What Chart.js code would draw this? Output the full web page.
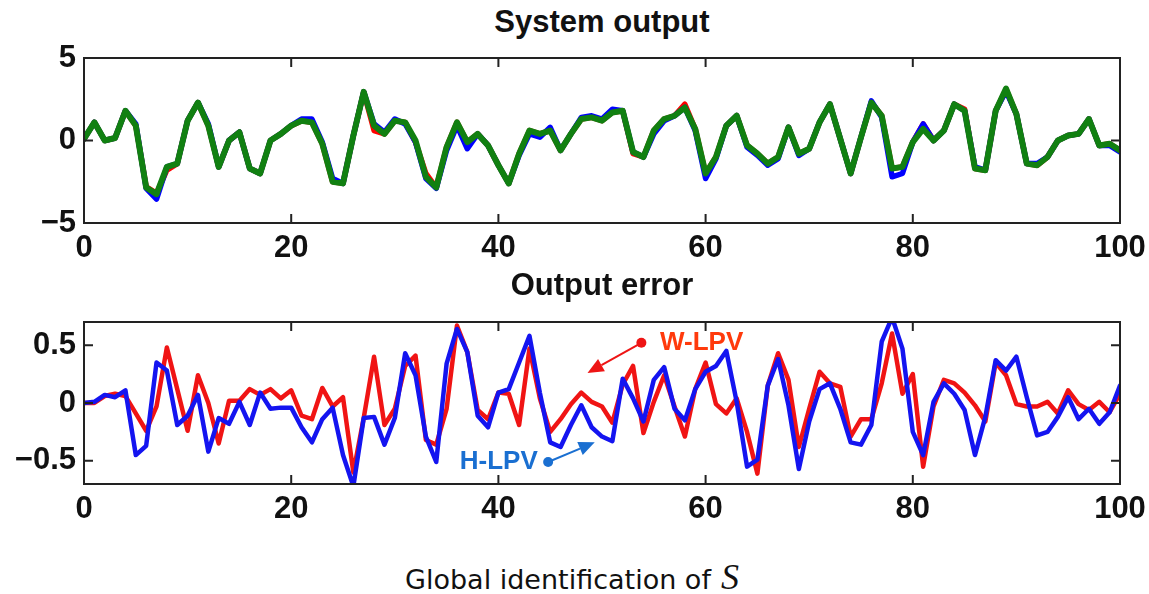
<!DOCTYPE html>
<html>
<head>
<meta charset="utf-8">
<script src="https://cdn.jsdelivr.net/npm/chart.js@4.4.1/dist/chart.umd.min.js"></script>
<style>
  html, body { margin: 0; padding: 0; background: #fff; }
  #wrap { position: relative; width: 1149px; height: 594px; overflow: hidden; }
  canvas { position: absolute; left: 0; }
  .title {
    position: absolute; left: 84px; width: 1036px; text-align: center;
    font: bold 31px 'Liberation Sans', Arial, sans-serif; line-height: 31px; color: #111;
  }
  #caption {
    position: absolute; left: 405px; top: 566px; white-space: nowrap;
    font: 27px 'DejaVu Sans', sans-serif; line-height: 27px; color: #111;
  }
  #caption span { font: italic 36px 'Liberation Serif', serif; line-height: 0; margin-left: 10px; }
</style>
</head>
<body>
<div id="wrap">
  <div class="title" style="top:6px">System output</div>
  <canvas id="chart-system" width="1149" height="270" style="top:0"></canvas>
  <div class="title" style="top:269px">Output error</div>
  <canvas id="chart-error" width="1149" height="260" style="top:270px"></canvas>
  <div id="caption">Global identification of<span>S</span></div>
</div>
<script>
/* ==========================================
   System output / Output error — two panels
   ========================================== */

const samples = Array.from({ length: 101 }, (_, i) => i);
const xTicks = [0, 20, 40, 60, 80, 100];
const sysYTicks = [-5, 0, 5];
const errYTicks = [-0.5, 0, 0.5];

// System output: true system (green) and the two identified models
const outTrue = [
  0.1, 1.1, 0.0, 0.15, 1.8, 0.9, -2.85, -3.25, -1.6, -1.4,
  1.2, 2.3, 0.9, -1.6, 0.0, 0.5, -1.7, -2.0, 0.0, 0.4,
  0.9, 1.2, 1.1, -0.2, -2.5, -2.6, 0.3, 2.95, 0.9, 0.4,
  1.2, 1.1, 0.0, -2.2, -2.85, -0.4, 1.1, -0.1, 0.4, -0.3,
  -1.5, -2.6, -0.8, 0.6, 0.4, 0.6, -0.6, 0.4, 1.3, 1.4,
  1.2, 1.7, 1.8, -0.7, -1.0, 0.6, 1.3, 1.5, 2.0, 0.7,
  -2.0, -1.0, 0.9, 1.5, -0.3, -0.8, -1.4, -1.0, 0.8, -0.8,
  -0.5, 1.1, 2.2, 0.1, -2.0, 0.2, 2.3, 1.5, -1.7, -1.6,
  -0.1, 0.7, 0.0, 0.6, 2.2, 1.8, -1.7, -1.8, 1.8, 3.15,
  1.6, -1.4, -1.5, -1.0, 0.0, 0.3, 0.4, 1.3, -0.3, -0.2,
  -0.6
];
const outHLPV = [
  0.1, 1.1, 0.0, 0.15, 1.8, 1.0, -2.9, -3.55, -1.6, -1.4,
  1.2, 2.3, 1.0, -1.6, 0.0, 0.5, -1.7, -2.0, 0.0, 0.4,
  0.9, 1.3, 1.3, -0.1, -2.3, -2.6, 0.3, 2.95, 1.0, 0.5,
  1.3, 1.0, -0.1, -2.3, -2.9, -0.6, 0.9, -0.5, 0.4, -0.3,
  -1.5, -2.6, -0.9, 0.4, 0.2, 0.8, -0.6, 0.4, 1.4, 1.5,
  1.3, 1.9, 1.8, -0.7, -1.0, 0.4, 1.2, 1.5, 2.0, 0.6,
  -2.3, -1.1, 0.9, 1.5, -0.4, -0.9, -1.5, -1.1, 0.8, -0.9,
  -0.5, 1.1, 2.2, 0.1, -2.0, 0.2, 2.4, 1.4, -2.2, -2.0,
  -0.1, 1.0, 0.0, 0.6, 2.2, 1.8, -1.6, -1.8, 1.8, 3.0,
  1.6, -1.4, -1.4, -1.0, 0.0, 0.3, 0.4, 1.3, -0.3, -0.3,
  -0.7
];
const outWLPV = [
  0.1, 1.1, 0.0, 0.15, 1.8, 0.9, -2.8, -3.2, -1.8, -1.4,
  1.2, 2.3, 0.9, -1.6, 0.0, 0.5, -1.7, -2.0, 0.0, 0.4,
  0.9, 1.2, 1.1, -0.2, -2.5, -2.6, 0.3, 2.95, 0.6, 0.4,
  1.2, 1.1, -0.1, -2.0, -2.85, -0.4, 1.1, -0.1, 0.4, -0.3,
  -1.5, -2.6, -0.8, 0.6, 0.4, 0.6, -0.6, 0.4, 1.3, 1.4,
  1.2, 1.7, 1.8, -0.8, -1.0, 0.6, 1.3, 1.5, 2.2, 0.7,
  -2.0, -1.0, 0.9, 1.5, -0.3, -0.8, -1.4, -1.0, 0.8, -0.8,
  -0.5, 1.1, 2.2, 0.1, -2.0, 0.2, 2.3, 1.5, -1.7, -1.6,
  -0.1, 1.0, 0.0, 0.6, 2.2, 1.9, -1.7, -1.8, 1.8, 3.1,
  1.6, -1.4, -1.5, -1.0, 0.0, 0.3, 0.4, 1.3, -0.3, -0.2,
  -0.6
];

// Output error of each identified model
const errWLPV = [
  0.0, 0.0, 0.06, 0.08, 0.06, -0.09, -0.24, -0.03, 0.48, 0.12,
  -0.24, 0.24, 0.0, -0.35, 0.02, 0.02, 0.12, 0.07, 0.12, 0.04,
  0.11, -0.11, -0.14, 0.13, -0.03, 0.05, -0.6, -0.13, 0.40, -0.19,
  -0.05, 0.32, 0.41, -0.32, -0.36, -0.05, 0.67, 0.44, -0.06, -0.14,
  0.09, 0.08, -0.19, 0.47, 0.04, -0.25, -0.14, -0.01, 0.09, 0.01,
  -0.03, -0.17, 0.16, 0.32, -0.26, 0.01, 0.24, -0.03, -0.29, 0.12,
  0.35, -0.01, -0.09, 0.04, -0.25, -0.61, 0.15, 0.43, 0.2, -0.38,
  -0.05, 0.27, 0.17, 0.14, -0.29, -0.14, -0.14, 0.17, 0.6, 0.08,
  0.25, -0.55, -0.03, 0.2, 0.17, 0.09, -0.02, -0.16, 0.35, 0.24,
  -0.01, -0.03, -0.03, 0.01, -0.09, 0.11, -0.01, -0.06, 0.01, -0.08,
  0.08
];
const errHLPV = [
  0.0, 0.01, 0.07, 0.05, 0.11, -0.45, -0.37, 0.35, 0.28, -0.19,
  -0.11, 0.07, -0.42, -0.13, -0.18, 0.01, -0.19, 0.09, -0.05, -0.04,
  -0.04, -0.21, -0.34, -0.14, -0.04, -0.45, -0.72, -0.13, -0.12, -0.36,
  -0.13, 0.43, 0.24, -0.29, -0.51, 0.34, 0.64, 0.44, -0.11, -0.21,
  0.09, 0.12, 0.35, 0.58, 0.09, -0.34, -0.38, -0.19, -0.02, -0.21,
  -0.29, -0.33, 0.21, 0.04, -0.16, 0.2, 0.31, -0.05, -0.15, 0.12,
  0.27, 0.32, 0.45, 0.01, -0.55, -0.49, 0.15, 0.38, -0.02, -0.57,
  -0.16, 0.12, 0.17, -0.05, -0.34, -0.36, -0.19, 0.53, 0.74, 0.47,
  -0.25, -0.45, 0.01, 0.17, 0.08, -0.06, -0.45, -0.12, 0.37, 0.28,
  0.40, 0.05, -0.28, -0.25, -0.12, 0.05, -0.14, -0.05, -0.18, -0.08,
  0.15
];

const TICK_FONT = { family: 'Liberation Sans', size: 31, weight: 'bold', lineHeight: 1 };
const fmt = v => (v < 0 ? '\u2212' + Math.abs(v) : String(v));

// MATLAB-style box with inward ticks on all four sides
const boxFrame = {
  id: 'boxFrame',
  afterDatasetsDraw(chart) {
    const { ctx, chartArea: a, scales: { x, y } } = chart;
    ctx.save();
    ctx.strokeStyle = '#222';
    ctx.lineWidth = 2;
    ctx.strokeRect(a.left, a.top, a.right - a.left, a.bottom - a.top);
    ctx.beginPath();
    x.ticks.forEach(t => {
      const px = x.getPixelForValue(t.value);
      ctx.moveTo(px, a.bottom); ctx.lineTo(px, a.bottom - 9);
      ctx.moveTo(px, a.top); ctx.lineTo(px, a.top + 9);
    });
    y.ticks.forEach(t => {
      const py = y.getPixelForValue(t.value);
      ctx.moveTo(a.left, py); ctx.lineTo(a.left + 9, py);
      ctx.moveTo(a.right, py); ctx.lineTo(a.right - 9, py);
    });
    ctx.stroke();
    ctx.restore();
  }
};

// Callout labels for the error panel (positions in data units)
const callouts = [
  { text: 'W-LPV', color: '#ff3a0c', line: '#ee1515', dot: [53.8, 0.52], tip: [48.6, 0.26], textAt: [55.6, 0.52], align: 'left' },
  { text: 'H-LPV', color: '#1a6fd1', line: '#1a6fd1', dot: [44.8, -0.51], tip: [49.3, -0.34], textAt: [43.8, -0.51], align: 'right' }
];

const calloutPlugin = {
  id: 'callouts',
  afterDraw(chart) {
    const { ctx, scales: { x, y } } = chart;
    ctx.save();
    callouts.forEach(c => {
      const dx = x.getPixelForValue(c.dot[0]), dy = y.getPixelForValue(c.dot[1]);
      const tx = x.getPixelForValue(c.tip[0]), ty = y.getPixelForValue(c.tip[1]);
      const ang = Math.atan2(ty - dy, tx - dx);
      const head = 16, half = 7;
      const bx = tx - head * Math.cos(ang), by = ty - head * Math.sin(ang);

      ctx.strokeStyle = c.line;
      ctx.fillStyle = c.line;
      ctx.lineWidth = 2;
      ctx.beginPath();
      ctx.moveTo(dx, dy);
      ctx.lineTo(bx, by);
      ctx.stroke();

      ctx.beginPath();
      ctx.moveTo(tx, ty);
      ctx.lineTo(bx + half * Math.sin(ang), by - half * Math.cos(ang));
      ctx.lineTo(bx - half * Math.sin(ang), by + half * Math.cos(ang));
      ctx.closePath();
      ctx.fill();

      ctx.beginPath();
      ctx.arc(dx, dy, 5, 0, Math.PI * 2);
      ctx.fill();

      ctx.fillStyle = c.color;
      ctx.font = "bold 26px 'Liberation Sans'";
      ctx.textAlign = c.align;
      ctx.textBaseline = 'middle';
      ctx.fillText(c.text, x.getPixelForValue(c.textAt[0]), y.getPixelForValue(c.textAt[1]));
    });
    ctx.restore();
  }
};

function lineSet(label, data, color, width, order) {
  return {
    label, data, order,
    borderColor: color,
    backgroundColor: color,
    borderWidth: width,
    pointRadius: 0,
    tension: 0,
    borderJoinStyle: 'round',
    borderCapStyle: 'round',
    fill: false
  };
}

function getPanelOptions(yMin, yMax, yTicks, xAxisHeight) {
  return {
    responsive: false,
    animation: false,
    devicePixelRatio: 1,
    layout: { autoPadding: false, padding: { left: 0, right: 29, top: 0, bottom: 0 } },
    plugins: { legend: { display: false }, tooltip: { enabled: false }, title: { display: false } },
    scales: {
      x: {
        type: 'linear', min: 0, max: 100,
        afterBuildTicks: s => { s.ticks = xTicks.map(v => ({ value: v })); },
        afterFit: s => {
          s.height = xAxisHeight;
          // labels at both ends may overhang; keep the plot box fixed
          s.paddingLeft = 0;
          s.paddingRight = 0;
        },
        grid: { display: false, drawTicks: false },
        border: { display: false },
        ticks: { color: '#111', font: TICK_FONT, padding: 10, maxRotation: 0, callback: fmt }
      },
      y: {
        type: 'linear', min: yMin, max: yMax,
        afterBuildTicks: s => { s.ticks = yTicks.map(v => ({ value: v })); },
        afterFit: s => {
          s.width = 84;
          s.paddingTop = 0;
          s.paddingBottom = 0;
        },
        grid: { display: false, drawTicks: false },
        border: { display: false },
        ticks: { color: '#111', font: TICK_FONT, padding: 8, callback: fmt }
      }
    }
  };
}

const sysOptions = getPanelOptions(-5, 5, sysYTicks, 47);
sysOptions.layout.padding.top = 58;

new Chart(document.getElementById('chart-system'), {
  type: 'line',
  data: {
    labels: samples,
    datasets: [
      lineSet('W-LPV', samples.map((x, i) => ({ x, y: outWLPV[i] })), '#ff0000', 5.5, 2),
      lineSet('H-LPV', samples.map((x, i) => ({ x, y: outHLPV[i] })), '#0000ff', 5.5, 1),
      lineSet('System', samples.map((x, i) => ({ x, y: outTrue[i] })), '#118011', 6, 0)
    ]
  },
  options: sysOptions,
  plugins: [boxFrame]
});

const errOptions = getPanelOptions(-0.7, 0.7, errYTicks, 46);
errOptions.layout.padding.top = 52;

new Chart(document.getElementById('chart-error'), {
  type: 'line',
  data: {
    labels: samples,
    datasets: [
      lineSet('W-LPV', samples.map((x, i) => ({ x, y: errWLPV[i] })), '#f01414', 4.5, 1),
      lineSet('H-LPV', samples.map((x, i) => ({ x, y: errHLPV[i] })), '#1414f0', 4.5, 0)
    ]
  },
  options: errOptions,
  plugins: [boxFrame, calloutPlugin]
});
</script>
</body>
</html>
